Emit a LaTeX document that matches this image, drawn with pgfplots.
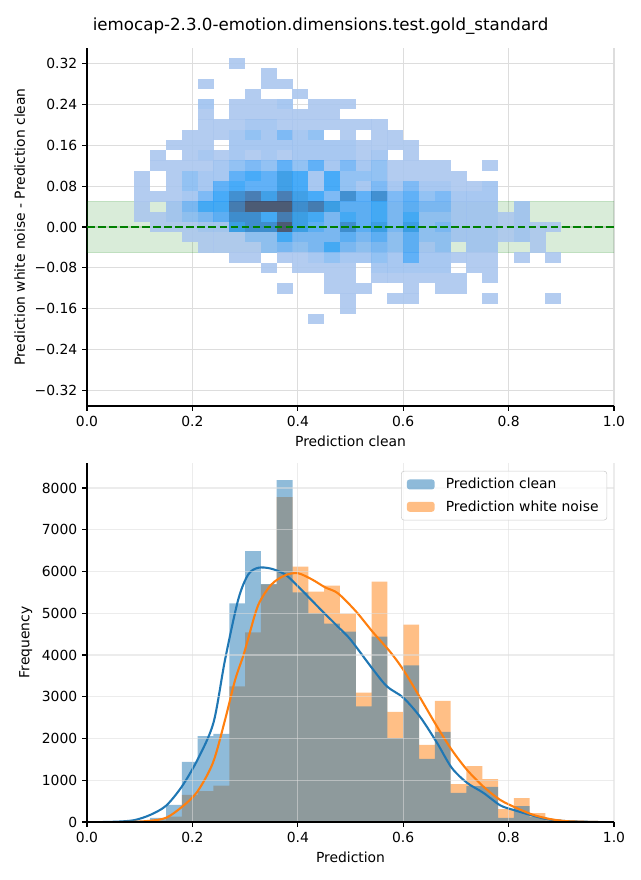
\documentclass[border=0pt]{standalone}
\usepackage{pgfplots}
\pgfplotsset{compat=1.18}
\usepackage{fontspec}
\setmainfont{DejaVu Sans}
\definecolor{mplblue}{RGB}{31,119,180}
\definecolor{mplorange}{RGB}{255,127,14}
\definecolor{mplgreen}{RGB}{0,128,0}
\definecolor{gridgray}{RGB}{221,221,221}

\pgfdeclareplotmark{hcell}{%
  \pgfpathrectanglecorners
    {\pgfplotspointaxisdirectionxy{-0.0152}{-0.0102}}
    {\pgfplotspointaxisdirectionxy{0.0152}{0.0102}}%
  \pgfusepathqfill}

\pgfplotsset{
  common/.style={
    scale only axis, width=379.44pt,
    axis lines*=left,
    axis line style={line width=0.8pt, black},
    tick align=outside, major tick length=3.5pt,
    tick style={line width=0.8pt, black},
    grid=major,
    tick label style={font=\fontsize{10}{12}\selectfont},
    label style={font=\fontsize{10}{12}\selectfont},
    xmin=0, xmax=1,
    xtick={0,0.2,0.4,0.6,0.8,1},
    xticklabels={0.0,0.2,0.4,0.6,0.8,1.0},
  }
}

\begin{document}
\begin{tikzpicture}
\useasboundingbox (0,0) rectangle (460.8pt,633.6pt);
\node[font=\fontsize{12}{14}\selectfont] at (230.8pt,614.9pt) {iemocap-2.3.0-emotion.dimensions.test.gold\_standard};

\begin{axis}[common, at={(62.64pt,341.28pt)}, anchor=south west,
  height=257.76pt,
  axis on top=false, clip mode=individual,
  grid style={line width=0.8pt, gridgray},
  ymin=-0.35, ymax=0.35,
  ytick={-0.32,-0.24,-0.16,-0.08,0,0.08,0.16,0.24,0.32},
  yticklabels={−0.32,−0.24,−0.16,−0.08,0.00,0.08,0.16,0.24,0.32},
  xlabel={Prediction clean},
  ylabel={Prediction white noise - Prediction clean},
  colormap={sb}{rgb255=(171,199,238) rgb255=(158,194,239) rgb255=(135,187,242) rgb255=(112,178,244) rgb255=(80,168,246) rgb255=(52,162,247) rgb255=(44,150,228) rgb255=(46,132,204) rgb255=(53,112,172) rgb255=(62,76,106)},
  point meta min=1, point meta max=10,
]
\addplot[draw=mplgreen, draw opacity=0.12, fill=mplgreen, fill opacity=0.15, forget plot]
  coordinates {(0,-0.05) (1,-0.05) (1,0.05) (0,0.05)} -- cycle;

\addplot[scatter, only marks, mark=hcell, point meta=explicit,
  scatter/use mapped color={draw=none, fill=mapped color, fill opacity=0.9}]
  table[x=x, y=y, meta=c, row sep=\\] {
x y c\\
0.285 0.32 1\\
0.345 0.30 1\\
0.225 0.28 1\\ 0.345 0.28 1\\ 0.375 0.28 1\\
0.315 0.26 1\\ 0.405 0.26 1\\
0.225 0.24 2\\ 0.285 0.24 1\\ 0.315 0.24 1\\ 0.345 0.24 1\\ 0.375 0.24 2\\ 0.435 0.24 1\\ 0.465 0.24 1\\ 0.495 0.24 1\\
0.225 0.22 1\\ 0.285 0.22 1\\ 0.315 0.22 1\\ 0.345 0.22 1\\ 0.375 0.22 1\\ 0.405 0.22 1\\ 0.435 0.22 1\\ 0.465 0.22 1\\
0.225 0.20 1\\ 0.255 0.20 1\\ 0.285 0.20 1\\ 0.315 0.20 2\\ 0.345 0.20 2\\ 0.375 0.20 1\\ 0.405 0.20 1\\ 0.435 0.20 1\\ 0.465 0.20 1\\ 0.495 0.20 1\\ 0.525 0.20 1\\ 0.555 0.20 1\\
0.195 0.18 1\\ 0.225 0.18 1\\ 0.255 0.18 1\\ 0.285 0.18 2\\ 0.315 0.18 3\\ 0.345 0.18 2\\ 0.375 0.18 4\\ 0.405 0.18 2\\ 0.435 0.18 3\\ 0.495 0.18 1\\ 0.555 0.18 1\\ 0.585 0.18 1\\
0.165 0.16 1\\ 0.195 0.16 1\\ 0.225 0.16 1\\ 0.285 0.16 2\\ 0.315 0.16 2\\ 0.345 0.16 2\\ 0.375 0.16 2\\ 0.405 0.16 2\\ 0.435 0.16 2\\ 0.465 0.16 2\\ 0.495 0.16 2\\ 0.525 0.16 1\\ 0.555 0.16 1\\ 0.585 0.16 1\\ 0.615 0.16 1\\
0.135 0.14 1\\ 0.195 0.14 1\\ 0.225 0.14 2\\ 0.255 0.14 1\\ 0.285 0.14 2\\ 0.315 0.14 1\\ 0.345 0.14 2\\ 0.375 0.14 1\\ 0.405 0.14 2\\ 0.435 0.14 2\\ 0.465 0.14 2\\ 0.495 0.14 2\\ 0.525 0.14 1\\ 0.555 0.14 2\\ 0.615 0.14 1\\
0.135 0.12 1\\ 0.165 0.12 1\\ 0.195 0.12 1\\ 0.225 0.12 1\\ 0.255 0.12 2\\ 0.285 0.12 3\\ 0.315 0.12 4\\ 0.345 0.12 3\\ 0.375 0.12 5\\ 0.405 0.12 3\\ 0.435 0.12 5\\ 0.465 0.12 2\\ 0.495 0.12 4\\ 0.525 0.12 2\\ 0.555 0.12 3\\ 0.585 0.12 1\\ 0.615 0.12 1\\ 0.645 0.12 1\\ 0.675 0.12 1\\ 0.765 0.12 1\\
0.105 0.10 1\\ 0.165 0.10 1\\ 0.195 0.10 3\\ 0.225 0.10 2\\ 0.255 0.10 2\\ 0.285 0.10 5\\ 0.315 0.10 6\\ 0.345 0.10 5\\ 0.375 0.10 7\\ 0.405 0.10 6\\ 0.435 0.10 2\\ 0.465 0.10 6\\ 0.495 0.10 3\\ 0.525 0.10 3\\ 0.555 0.10 3\\ 0.585 0.10 1\\ 0.615 0.10 1\\ 0.645 0.10 1\\ 0.675 0.10 1\\ 0.705 0.10 1\\
0.105 0.08 1\\ 0.165 0.08 1\\ 0.195 0.08 3\\ 0.225 0.08 2\\ 0.255 0.08 5\\ 0.285 0.08 6\\ 0.315 0.08 5\\ 0.345 0.08 5\\ 0.375 0.08 7\\ 0.405 0.08 6\\ 0.435 0.08 2\\ 0.465 0.08 6\\ 0.495 0.08 3\\ 0.525 0.08 2\\ 0.555 0.08 4\\ 0.585 0.08 2\\ 0.615 0.08 4\\ 0.645 0.08 2\\ 0.675 0.08 2\\ 0.705 0.08 1\\ 0.735 0.08 1\\ 0.765 0.08 2\\
0.105 0.06 1\\ 0.135 0.06 1\\ 0.165 0.06 1\\ 0.195 0.06 2\\ 0.225 0.06 4\\ 0.255 0.06 6\\ 0.285 0.06 8\\ 0.315 0.06 9\\ 0.345 0.06 7\\ 0.375 0.06 9\\ 0.405 0.06 7\\ 0.435 0.06 6\\ 0.465 0.06 4\\ 0.495 0.06 8\\ 0.525 0.06 5\\ 0.555 0.06 8\\ 0.585 0.06 4\\ 0.615 0.06 5\\ 0.645 0.06 3\\ 0.675 0.06 4\\ 0.705 0.06 2\\ 0.735 0.06 2\\ 0.765 0.06 2\\
0.105 0.04 1\\ 0.165 0.04 2\\ 0.195 0.04 4\\ 0.225 0.04 6\\ 0.255 0.04 6\\ 0.285 0.04 9\\ 0.315 0.04 10\\ 0.345 0.04 10\\ 0.375 0.04 10\\ 0.405 0.04 8\\ 0.435 0.04 9\\ 0.465 0.04 7\\ 0.495 0.04 5\\ 0.525 0.04 5\\ 0.555 0.04 6\\ 0.585 0.04 4\\ 0.615 0.04 5\\ 0.645 0.04 4\\ 0.675 0.04 4\\ 0.705 0.04 2\\ 0.735 0.04 2\\ 0.765 0.04 2\\ 0.825 0.04 2\\
0.105 0.02 1\\ 0.135 0.02 1\\ 0.165 0.02 2\\ 0.195 0.02 3\\ 0.225 0.02 4\\ 0.255 0.02 5\\ 0.285 0.02 8\\ 0.315 0.02 8\\ 0.345 0.02 6\\ 0.375 0.02 9\\ 0.405 0.02 7\\ 0.435 0.02 6\\ 0.465 0.02 4\\ 0.495 0.02 6\\ 0.525 0.02 5\\ 0.555 0.02 6\\ 0.585 0.02 4\\ 0.615 0.02 6\\ 0.645 0.02 3\\ 0.675 0.02 3\\ 0.705 0.02 2\\ 0.735 0.02 2\\ 0.765 0.02 2\\ 0.795 0.02 1\\ 0.825 0.02 2\\
0.135 0.00 1\\ 0.165 0.00 1\\ 0.195 0.00 1\\ 0.225 0.00 2\\ 0.255 0.00 2\\ 0.285 0.00 7\\ 0.315 0.00 8\\ 0.345 0.00 8\\ 0.375 0.00 10\\ 0.405 0.00 7\\ 0.435 0.00 5\\ 0.465 0.00 4\\ 0.495 0.00 8\\ 0.525 0.00 5\\ 0.555 0.00 7\\ 0.585 0.00 4\\ 0.615 0.00 7\\ 0.645 0.00 3\\ 0.675 0.00 4\\ 0.705 0.00 2\\ 0.735 0.00 2\\ 0.765 0.00 2\\ 0.795 0.00 1\\ 0.825 0.00 2\\ 0.855 0.00 1\\ 0.885 0.00 1\\
0.195 -0.02 1\\ 0.225 -0.02 1\\ 0.255 -0.02 1\\ 0.285 -0.02 1\\ 0.315 -0.02 3\\ 0.345 -0.02 3\\ 0.375 -0.02 6\\ 0.405 -0.02 4\\ 0.435 -0.02 4\\ 0.465 -0.02 4\\ 0.495 -0.02 5\\ 0.525 -0.02 4\\ 0.555 -0.02 5\\ 0.585 -0.02 3\\ 0.615 -0.02 5\\ 0.645 -0.02 3\\ 0.675 -0.02 3\\ 0.705 -0.02 2\\ 0.735 -0.02 2\\ 0.765 -0.02 2\\ 0.795 -0.02 1\\ 0.825 -0.02 2\\ 0.855 -0.02 1\\
0.225 -0.04 1\\ 0.255 -0.04 1\\ 0.285 -0.04 1\\ 0.315 -0.04 1\\ 0.345 -0.04 3\\ 0.375 -0.04 4\\ 0.405 -0.04 3\\ 0.435 -0.04 4\\ 0.465 -0.04 6\\ 0.495 -0.04 4\\ 0.525 -0.04 3\\ 0.555 -0.04 4\\ 0.585 -0.04 3\\ 0.615 -0.04 5\\ 0.645 -0.04 2\\ 0.675 -0.04 3\\ 0.735 -0.04 2\\ 0.765 -0.04 2\\ 0.855 -0.04 1\\
0.285 -0.06 1\\ 0.315 -0.06 1\\ 0.375 -0.06 1\\ 0.405 -0.06 1\\ 0.435 -0.06 2\\ 0.465 -0.06 3\\ 0.495 -0.06 2\\ 0.525 -0.06 2\\ 0.555 -0.06 3\\ 0.585 -0.06 2\\ 0.615 -0.06 5\\ 0.645 -0.06 2\\ 0.675 -0.06 2\\ 0.705 -0.06 1\\ 0.735 -0.06 1\\ 0.765 -0.06 1\\ 0.825 -0.06 1\\ 0.885 -0.06 1\\
0.345 -0.08 1\\ 0.405 -0.08 1\\ 0.435 -0.08 1\\ 0.465 -0.08 1\\ 0.495 -0.08 1\\ 0.555 -0.08 2\\ 0.585 -0.08 2\\ 0.615 -0.08 2\\ 0.645 -0.08 2\\ 0.675 -0.08 2\\ 0.735 -0.08 1\\ 0.765 -0.08 1\\
0.465 -0.10 1\\ 0.495 -0.10 1\\ 0.555 -0.10 1\\ 0.585 -0.10 1\\ 0.615 -0.10 1\\ 0.645 -0.10 1\\ 0.675 -0.10 1\\ 0.705 -0.10 1\\ 0.765 -0.10 1\\
0.375 -0.12 1\\ 0.465 -0.12 1\\ 0.495 -0.12 1\\ 0.525 -0.12 1\\ 0.615 -0.12 1\\ 0.675 -0.12 1\\ 0.705 -0.12 1\\
0.495 -0.14 1\\ 0.585 -0.14 1\\ 0.615 -0.14 1\\ 0.765 -0.14 1\\ 0.885 -0.14 1\\
0.495 -0.16 1\\
0.435 -0.18 1\\
};

\addplot[mplgreen, line width=1.5pt, dash pattern=on 5.55pt off 2.4pt, forget plot]
  coordinates {(0,0) (1,0)};
\end{axis}

\begin{axis}[common, at={(62.64pt,41.76pt)}, anchor=south west,
  height=258.48pt,
  axis on top,
  grid style={line width=0.8pt, gridgray, opacity=0.55},
  ymin=0, ymax=8600,
  ytick={0,1000,2000,3000,4000,5000,6000,7000,8000},
  yticklabels={0,1000,2000,3000,4000,5000,6000,7000,8000},
  scaled y ticks=false,
  xlabel={Prediction},
  ylabel={Frequency},
  legend cell align=left,
  legend style={at={(0.987,0.978)}, anchor=north east,
    draw=black!20, rounded corners=2pt, fill=white, fill opacity=0.8, text opacity=1,
    font=\fontsize{10}{12}\selectfont, inner xsep=4pt, inner ysep=3pt, row sep=3pt,
    /tikz/every odd column/.append style={column sep=6pt}},
  legend image code/.code={\fill[#1] (0pt,-3.6pt) rectangle (20pt,3.6pt);},
]
\addlegendimage{fill=mplblue, fill opacity=0.5, draw=none}
\addlegendentry{Prediction clean}
\addlegendimage{fill=mplorange, fill opacity=0.5, draw=none}
\addlegendentry{Prediction white noise}

% white noise histogram (drawn first)
\addplot[fill=mplorange, fill opacity=0.5, draw=none, const plot mark left, forget plot]
coordinates {
(0.03,0) (0.06,3) (0.09,10) (0.12,40) (0.15,130) (0.18,650) (0.21,740) (0.24,870)
(0.27,3250) (0.30,4540) (0.33,5690) (0.36,7780) (0.39,6120) (0.42,5520) (0.45,5660)
(0.48,4990) (0.51,3100) (0.54,5760) (0.57,2640) (0.60,4730) (0.63,1850) (0.66,2900)
(0.69,910) (0.72,1340) (0.75,1030) (0.78,310) (0.81,570) (0.84,210) (0.87,60)
(0.90,20) (0.93,5) (0.96,5)
} \closedcycle;

% clean histogram
\addplot[fill=mplblue, fill opacity=0.5, draw=none, const plot mark left, forget plot]
coordinates {
(0.03,2) (0.06,10) (0.09,35) (0.12,100) (0.15,410) (0.18,1440) (0.21,2060) (0.24,2110)
(0.27,5240) (0.30,6490) (0.33,5700) (0.36,8190) (0.39,5500) (0.42,5000) (0.45,4750)
(0.48,4560) (0.51,2770) (0.54,4440) (0.57,2010) (0.60,3750) (0.63,1510) (0.66,2160)
(0.69,700) (0.72,860) (0.75,840) (0.78,100) (0.81,380) (0.84,120) (0.87,40)
(0.90,15) (0.93,3) (0.96,3)
} \closedcycle;

% KDE clean
\addplot[mplblue, line width=1.5pt, smooth, forget plot] coordinates {
(0.03,0) (0.06,10) (0.09,45) (0.12,170) (0.15,390) (0.18,850) (0.21,1500) (0.24,2380)
(0.262,3890) (0.287,5330) (0.306,5930) (0.325,6090) (0.349,6070) (0.376,5930)
(0.40,5650) (0.438,5160) (0.476,4680) (0.50,4370) (0.54,3700) (0.569,3250)
(0.60,2980) (0.632,2520) (0.664,1900) (0.692,1300) (0.721,940) (0.752,700)
(0.784,400) (0.809,290) (0.841,170) (0.872,70) (0.91,20) (0.97,0)
};

% KDE white noise
\addplot[mplorange, line width=1.5pt, smooth, forget plot] coordinates {
(0.07,0) (0.09,5) (0.12,30) (0.15,100) (0.18,360) (0.209,720) (0.239,1420)
(0.262,2450) (0.281,3400) (0.297,4000) (0.306,4400) (0.325,5200) (0.35,5690)
(0.376,5910) (0.40,5960) (0.427,5810) (0.452,5620) (0.476,5480) (0.51,5050)
(0.543,4540) (0.575,4080) (0.60,3650) (0.632,2980) (0.664,2290) (0.692,1730)
(0.721,1250) (0.752,850) (0.784,530) (0.816,330) (0.847,170) (0.879,70) (0.91,20)
(0.95,3) (0.97,0)
};
\end{axis}
\end{tikzpicture}
\end{document}
